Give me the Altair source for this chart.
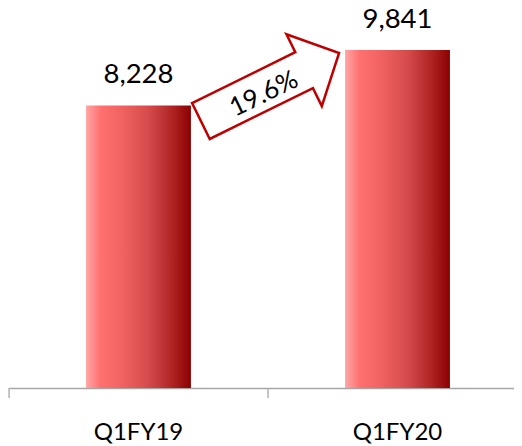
import altair as alt
import pandas as pd

categories = ["Q1FY19", "Q1FY20"]
values = [8228, 9841]

growth = (values[1] / values[0] - 1) * 100
growth_label = f"{growth:.1f}%"

df = pd.DataFrame({"cat": categories, "val": values,
                   "lbl": [f"{v:,}" for v in values]})

FONT = "Lato"
PLOT_H = 376
P_INNER = 0.595

x_scale = alt.Scale(paddingInner=P_INNER, paddingOuter=0.2724, align=0.546)
x_axis = alt.Axis(title=None, labelAngle=0, ticks=True, tickOpacity=0, tickSize=10,
                  domainColor="#a6a6a6", domainWidth=1.3,
                  labelFont=FONT, labelFontSize=24, labelColor="#000000",
                  labelPadding=22, grid=False)
x_enc = alt.X("cat:N", sort=categories, scale=x_scale, axis=x_axis)
y_enc = alt.Y("val:Q", scale=alt.Scale(domain=[0, 10949], nice=False, zero=True),
              axis=None)

grad = alt.Gradient(
    gradient="linear",
    stops=[
        alt.GradientStop(color="#ffa6a6", offset=0),
        alt.GradientStop(color="#ff7070", offset=0.14),
        alt.GradientStop(color="#f06262", offset=0.35),
        alt.GradientStop(color="#d44a4a", offset=0.6),
        alt.GradientStop(color="#b02424", offset=0.82),
        alt.GradientStop(color="#8b0000", offset=1),
    ],
    x1=0, x2=1, y1=0, y2=0,
)

bars = alt.Chart(df).mark_bar(color=grad).encode(x=x_enc, y=y_enc)

# category-boundary ticks (half an inner padding left of each band start)
ticks = alt.Chart(df).mark_rule(color="#a6a6a6", strokeWidth=1.3, xOffset=-77).encode(
    x=alt.X("cat:N", sort=categories, bandPosition=0),
    y=alt.value(PLOT_H), y2=alt.value(PLOT_H + 10))

labels = alt.Chart(df).mark_text(
    font=FONT, fontSize=27.5, color="#000000", baseline="alphabetic", dy=-22
).encode(x=alt.X("cat:N", sort=categories), y="val:Q", text="lbl:N")

arrow_path = ("M-1,-0.26 L0.494,-0.26 L0.494,-0.52 L1,0 "
              "L0.494,0.52 L0.494,0.26 L-1,0.26 Z")

arrow = alt.Chart(pd.DataFrame({"a": [0]})).mark_point(
    shape=arrow_path, filled=True, fill="#ffffff", stroke="#c00000",
    strokeWidth=2.5, opacity=1, size=23716, angle=333.8
).encode(x=alt.value(261), y=alt.value(75))

pct = alt.Chart(pd.DataFrame({"t": [growth_label]})).mark_text(
    font=FONT, fontSize=26, color="#000000", angle=334,
    align="center", baseline="middle"
).encode(x=alt.value(255), y=alt.value(82), text="t:N")

chart = alt.layer(bars, ticks, labels, arrow, pct).properties(
    width=505, height=PLOT_H,
    autosize=alt.AutoSizeParams(type="none"),
    padding={"left": 1, "top": 4, "right": 0, "bottom": 56},
    background="#ffffff",
).configure_view(stroke=None)

chart.save("out.html", embed_options={"renderer": "svg", "actions": False})
